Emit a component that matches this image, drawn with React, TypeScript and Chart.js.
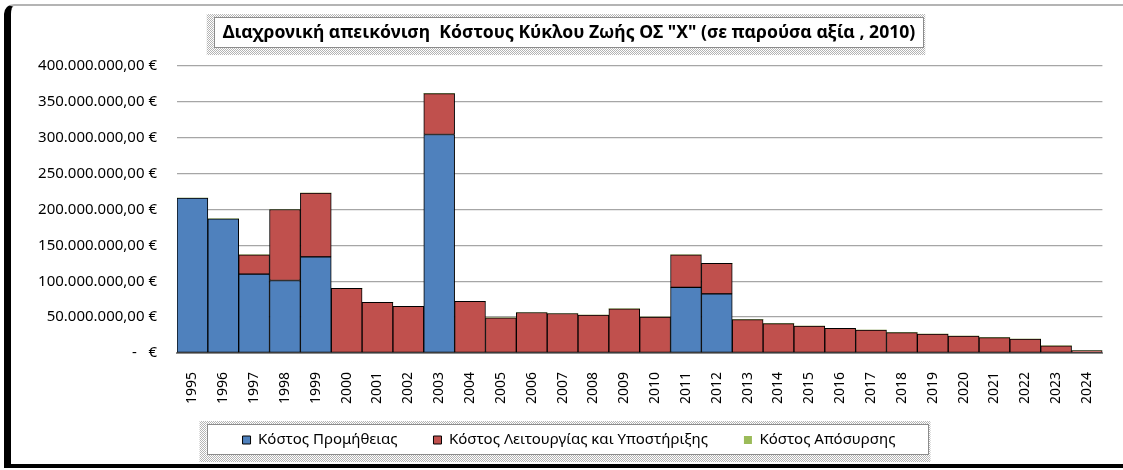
import React, { useEffect, useRef } from 'react';
import { Chart, registerables } from 'chart.js';

Chart.register(...registerables);

// ---- data (values in millions of €) ----
const years = [
  '1995', '1996', '1997', '1998', '1999', '2000', '2001', '2002', '2003', '2004',
  '2005', '2006', '2007', '2008', '2009', '2010', '2011', '2012', '2013', '2014',
  '2015', '2016', '2017', '2018', '2019', '2020', '2021', '2022', '2023', '2024',
];
const procurementM = [
  216, 187, 110, 101, 134, 0, 0, 0, 304.5, 0,
  0, 0, 0, 0, 0, 0, 91.5, 82.5, 0, 0,
  0, 0, 0, 0, 0, 0, 0, 0, 0, 0,
];
const operationM = [
  0, 0, 27, 99, 89, 90, 70.5, 65, 57, 72,
  49, 56.5, 55, 53, 61.5, 50, 45.5, 42.5, 46.5, 41,
  37.5, 34.5, 32, 28.5, 26.5, 23.5, 21.5, 19.5, 10, 3.5,
];
const disposalM = [
  0, 0, 0, 0, 0, 0, 0, 0, 0, 0,
  0, 0, 0, 0, 0, 0, 0, 0, 0, 0,
  0, 0, 0, 0, 0, 0, 0, 0, 0, 0,
];
const seriesNames = [
  'Κόστος Προμήθειας',
  'Κόστος Λειτουργίας και Υποστήριξης',
  'Κόστος Απόσυρσης',
];
const seriesColors = ['#4F81BD', '#C0504D', '#9BBB59'];
const yMaxM = 400;
const yStepM = 50;
const titleText = 'Διαχρονική απεικόνιση  Κόστους Κύκλου Ζωής ΟΣ "Χ" (σε παρούσα αξία , 2010)';

const FONT = '"Noto Sans", "Open Sans", sans-serif';
const TITLE_SIZE = 17.6;
const LEGEND_PAD = 36;
const LEGEND_FONT = 15;
const X_AXIS_H = 56;
const LEGEND_H = 61;
const LEGEND_SHIFT = 12.5;

function formatEuro(v: number): string {
  if (v === 0) return '-   €';
  const s = Math.round(v).toString().replace(/\B(?=(\d{3})+(?!\d))/g, '.');
  return s + ',00 €';
}

function stipple(ctx: CanvasRenderingContext2D) {
  const c = document.createElement('canvas');
  c.width = 2;
  c.height = 2;
  const g = c.getContext('2d')!;
  g.fillStyle = '#ffffff';
  g.fillRect(0, 0, 2, 2);
  g.fillStyle = '#b4b4b4';
  g.fillRect(0, 0, 1, 1);
  g.fillRect(1, 1, 1, 1);
  return ctx.createPattern(c, 'repeat');
}

function drawBox(ctx: CanvasRenderingContext2D, x: number, y: number, w: number, h: number) {
  ctx.save();
  const p = stipple(ctx);
  if (p) ctx.fillStyle = p;
  ctx.fillRect(x - 7, y - 3, w + 9, h + 10);
  ctx.fillStyle = '#ffffff';
  ctx.fillRect(x, y, w, h);
  ctx.strokeStyle = '#8c8c8c';
  ctx.lineWidth = 1;
  ctx.strokeRect(Math.round(x) + 0.5, Math.round(y) + 0.5, Math.round(w) - 1, Math.round(h) - 1);
  ctx.restore();
}

const boxesPlugin = {
  id: 'boxes',
  beforeLayout(chart: any) {
    const lg = chart.legend;
    if (lg && !lg._patchedFit) {
      const orig = lg.fit.bind(lg);
      lg.fit = function () {
        orig();
        this.height = LEGEND_H;
      };
      lg._patchedFit = true;
    }
  },
  afterLayout(chart: any) {
    const lg = chart.legend;
    if (lg) {
      lg.top -= LEGEND_SHIFT;
      lg.bottom -= LEGEND_SHIFT;
    }
  },
  beforeDraw(chart: any) {
    const ctx: CanvasRenderingContext2D = chart.ctx;
    const tb = chart.titleBlock;
    if (tb) {
      const opts = tb.options;
      const size = opts.font.size;
      ctx.save();
      ctx.font = `bold ${size}px ${FONT}`;
      const w = ctx.measureText(titleText).width;
      ctx.restore();
      const cx = (tb.left + tb.right) / 2;
      const cy = tb.top + opts.padding.top + (size * 1.2) / 2;
      drawBox(ctx, cx - w / 2 - 9, cy - 16, w + 17, 31);
    }
    const lg = chart.legend;
    if (lg && lg.legendHitBoxes && lg.legendHitBoxes.length) {
      const hb = lg.legendHitBoxes;
      const first = hb[0];
      const last = hb[hb.length - 1];
      const cy = first.top + first.height / 2;
      const x0 = first.left - 36;
      const x1 = last.left + last.width + 33;
      drawBox(ctx, x0, cy - 16, x1 - x0, 31);
    }
  },
};

export default function App() {
  const ref = useRef<HTMLCanvasElement>(null);

  useEffect(() => {
    if (!ref.current) return;
    const toE = (arr: number[]) => arr.map((v) => v * 1e6);
    const chart = new Chart(ref.current, {
      type: 'bar',
      data: {
        labels: years,
        datasets: [
          {
            label: seriesNames[0],
            data: toE(procurementM),
            backgroundColor: seriesColors[0],
            borderColor: '#000000',
            borderWidth: 1,
            borderSkipped: false,
          },
          {
            label: seriesNames[1],
            data: toE(operationM),
            backgroundColor: seriesColors[1],
            borderColor: '#000000',
            borderWidth: 1,
            borderSkipped: false,
          },
          {
            label: seriesNames[2],
            data: toE(disposalM),
            backgroundColor: seriesColors[2],
            borderColor: seriesColors[2],
            borderWidth: 0,
          },
        ],
      },
      plugins: [boxesPlugin],
      options: {
        responsive: false,
        animation: false,
        devicePixelRatio: 1,
        layout: { padding: { left: 28, right: 13, top: 0, bottom: 0 } },
        datasets: {
          bar: { categoryPercentage: 1, barPercentage: 1 },
        },
        scales: {
          x: {
            stacked: true,
            grid: { display: false, drawTicks: false },
            border: { display: true, color: '#8c8c8c', width: 2 },
            ticks: {
              autoSkip: false,
              maxRotation: 90,
              minRotation: 90,
              padding: 19,
              color: '#000000',
              font: { family: FONT, size: 14 },
            },
            afterFit(scale: any) {
              scale.height = X_AXIS_H;
            },
          },
          y: {
            stacked: true,
            min: 0,
            max: yMaxM * 1e6,
            grid: { color: '#a6a6a6', lineWidth: 1.3, drawTicks: false },
            border: { display: false },
            ticks: {
              stepSize: yStepM * 1e6,
              padding: 20,
              color: '#000000',
              font: { family: FONT, size: 15 },
              callback: (v: any) => formatEuro(Number(v)),
            },
            afterFit(scale: any) {
              scale.width = 149;
            },
          },
        },
        plugins: {
          tooltip: { enabled: false },
          title: {
            display: true,
            text: titleText,
            color: '#000000',
            font: { family: FONT, size: TITLE_SIZE, weight: 'bold', lineHeight: 1.2 },
            padding: { top: 22.5, bottom: 22.4 },
          },
          legend: {
            display: true,
            position: 'bottom',
            labels: {
              color: '#000000',
              font: { family: FONT, size: LEGEND_FONT },
              boxWidth: 8,
              boxHeight: 8,
              padding: LEGEND_PAD,
            },
          },
        },
      } as any,
    });
    return () => chart.destroy();
  }, []);

  return (
    <div
      style={{
        position: 'fixed',
        left: 0,
        top: 0,
        width: 1123,
        height: 470,
        background: '#ffffff',
        overflow: 'hidden',
      }}
    >
      <div
        style={{
          position: 'absolute',
          left: 4,
          top: 4,
          width: 1140,
          height: 464,
          boxSizing: 'border-box',
          borderTop: '2px solid #b4b4b4',
          borderLeft: '7px solid #000000',
          borderBottom: '4px solid #000000',
          borderTopLeftRadius: 10,
        }}
      />
      <canvas
        ref={ref}
        width={1123}
        height={470}
        style={{ position: 'absolute', left: 0, top: 0, width: 1123, height: 470 }}
      />
    </div>
  );
}
